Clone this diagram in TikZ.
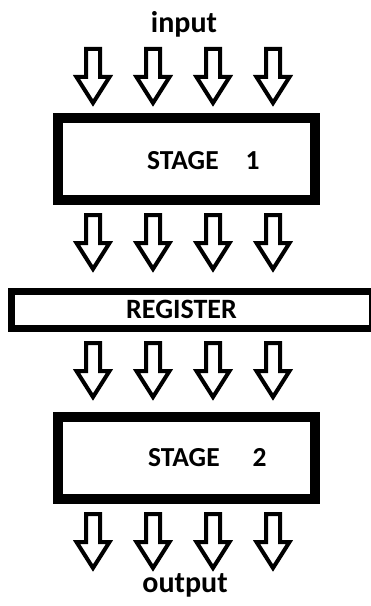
\documentclass[tikz,border=0pt]{standalone}
\usepackage{fontspec}
\setmainfont{Carlito}
\tikzset{downarrow/.pic={
        \draw[line width=4bp, line join=miter] (-7,0) -- (7,0) -- (7,28) -- (16.5,28) -- (0,54) -- (-16.5,28) -- (-7,28) -- cycle;
    }
}

\begin{document}
\begin{tikzpicture}[x=1bp, y=-1bp, stagebox/.style={rectangle, draw=black, line width=10bp, minimum width=257bp, minimum height=82bp}, regbox/.style={rectangle, draw=black, line width=7bp, minimum width=361bp, minimum height=37bp}, txt/.style={font=\fontsize{30bp}{34bp}\selectfont\bfseries, inner sep=0pt}]
            \useasboundingbox (0,0) rectangle (370,606);

            \node[stagebox](stage1) at (186.5, 159) {};
            \node[regbox](register) at (192, 310) {};
            \node[stagebox](stage2) at (186.5, 457.5) {};

            \node[txt, anchor=base](input) at (184, 33) {input};
            \node[txt, anchor=base west, font=\fontsize{27.5bp}{32bp}\selectfont\bfseries](stagetext1) at (147, 170) {STAGE\hspace{27bp}1};
            \node[txt, anchor=base, font=\fontsize{28bp}{32bp}\selectfont\bfseries](regtext) at (181.5, 318) {REGISTER};
            \node[txt, anchor=base west, font=\fontsize{27.5bp}{32bp}\selectfont\bfseries](stagetext2) at (148, 466) {STAGE\hspace{33bp}2};
            \node[txt, anchor=base](output) at (185, 592) {output};

            \pic (in1) at (93, 49) {downarrow};
            \pic (in2) at (153, 49) {downarrow};
            \pic (in3) at (213, 49) {downarrow};
            \pic (in4) at (273, 49) {downarrow};

            \pic (st1) at (93, 215) {downarrow};
            \pic (st2) at (153, 215) {downarrow};
            \pic (st3) at (213, 215) {downarrow};
            \pic (st4) at (273, 215) {downarrow};

            \pic (rg1) at (93, 343) {downarrow};
            \pic (rg2) at (153, 343) {downarrow};
            \pic (rg3) at (213, 343) {downarrow};
            \pic (rg4) at (273, 343) {downarrow};

            \pic (out1) at (93, 514) {downarrow};
            \pic (out2) at (153, 514) {downarrow};
            \pic (out3) at (213, 514) {downarrow};
            \pic (out4) at (273, 514) {downarrow};
\end{tikzpicture}
\end{document}
